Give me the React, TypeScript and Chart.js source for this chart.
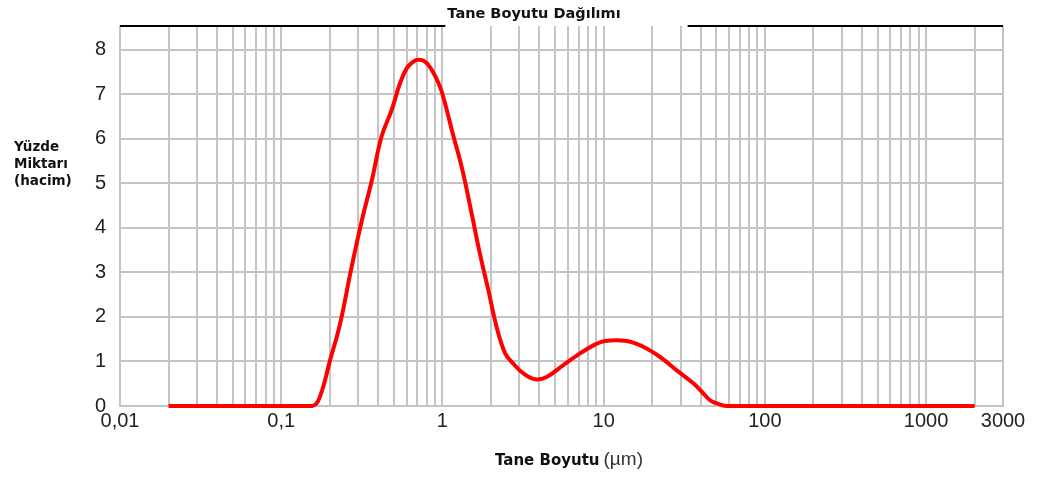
import React, { useEffect, useRef } from "react";
import { Chart, registerables } from "chart.js";

Chart.register(...registerables);

// Particle size (µm) and volume percentage
const particleSizes = [
  0.02, 0.05, 0.1, 0.14, 0.155, 0.165, 0.174, 0.187, 0.201, 0.221, 0.237, 0.273,
  0.316, 0.364, 0.42, 0.485, 0.546, 0.6, 0.66, 0.709, 0.78, 0.858, 0.966, 1.063,
  1.142, 1.32, 1.52, 1.71, 1.93, 2.17, 2.45, 2.75, 3.18, 3.75, 4.43, 5.62, 7.14,
  8.64, 10.2, 13.9, 17.6, 22.4, 28.4, 36, 40.6, 45.7, 50.2, 58, 100, 500, 2000,
];
const volumePercent = [
  0, 0, 0, 0, 0, 0.05, 0.21, 0.58, 1.03, 1.55, 2.0, 3.11, 4.16, 5.05, 6.06, 6.65,
  7.25, 7.58, 7.73, 7.77, 7.73, 7.55, 7.17, 6.65, 6.2, 5.35, 4.31, 3.41, 2.59,
  1.77, 1.18, 0.95, 0.73, 0.6, 0.65, 0.92, 1.18, 1.36, 1.46, 1.46, 1.33, 1.1,
  0.8, 0.51, 0.32, 0.13, 0.06, 0, 0, 0, 0,
];

const xMajorTicks = [0.01, 0.1, 1, 10, 100, 1000, 3000];
const xTickLabels = ["0,01", "0,1", "1", "10", "100", "1000", "3000"];
const yTicks = [0, 1, 2, 3, 4, 5, 6, 7, 8];
const xMin = 0.01;
const xMax = 3000;
const yMin = 0;
const yMax = 8.53;

const chartTitle = "Tane Boyutu Dağılımı";
const yTitleLines = ["Yüzde", "Miktarı", "(hacim)"];
const xTitleBold = "Tane Boyutu";
const xTitleUnit = "(µm)";

function gridTickValues(): number[] {
  const out: number[] = [];
  for (let e = -2; e <= 3; e++) {
    for (let m = 1; m <= 9; m++) {
      const v = parseFloat((m * Math.pow(10, e)).toPrecision(6));
      if (v <= xMax + 1e-9) out.push(v);
    }
  }
  if (!out.some((v) => Math.abs(v - xMax) < 1e-6)) out.push(xMax);
  return out;
}

function labelFor(v: number): string {
  for (let i = 0; i < xMajorTicks.length; i++) {
    if (Math.abs(v - xMajorTicks[i]) / xMajorTicks[i] < 1e-6) return xTickLabels[i];
  }
  return "";
}

const textPlugin = {
  id: "customTexts",
  afterDraw(chart: any) {
    const ctx = chart.ctx as CanvasRenderingContext2D;
    const { left, right, top } = chart.chartArea;
    ctx.save();
    // title
    ctx.font = 'bold 14.5px "DejaVu Sans"';
    ctx.fillStyle = "#111";
    ctx.textAlign = "center";
    ctx.textBaseline = "alphabetic";
    const titleX = 534;
    ctx.fillText(chartTitle, titleX, 18);
    const tw = ctx.measureText(chartTitle).width;
    // top black border (interrupted under the title)
    ctx.strokeStyle = "#000";
    ctx.lineWidth = 2;
    ctx.beginPath();
    ctx.moveTo(left, top);
    ctx.lineTo(titleX - tw / 2 - 2, top);
    ctx.moveTo(titleX + tw / 2 + 67, top);
    ctx.lineTo(right, top);
    ctx.stroke();
    // y title
    ctx.font = 'bold 13.5px "DejaVu Sans"';
    ctx.textAlign = "left";
    const yBase = [151, 168, 185];
    yTitleLines.forEach((t, i) => ctx.fillText(t, 14, yBase[i]));
    // x title
    ctx.font = 'bold 15px "DejaVu Sans"';
    ctx.fillText(xTitleBold, 495, 465);
    const bw = ctx.measureText(xTitleBold).width;
    ctx.font = '19px "Liberation Sans"';
    ctx.fillStyle = "#333";
    ctx.fillText(xTitleUnit, 495 + bw + 4, 465);
    ctx.restore();
  },
};

export default function App() {
  const canvasRef = useRef<HTMLCanvasElement | null>(null);

  useEffect(() => {
    if (!canvasRef.current) return;
    const points = particleSizes.map((x, i) => ({ x, y: volumePercent[i] }));
    const gridTicks = gridTickValues();
    const chart = new Chart(canvasRef.current, {
      type: "line",
      data: {
        datasets: [
          {
            data: points,
            borderColor: "#ff0000",
            borderWidth: 4,
            pointRadius: 0,
            fill: false,
            tension: 0.4,
            clip: false as any,
          },
        ],
      },
      options: {
        animation: false,
        responsive: false,
        maintainAspectRatio: false,
        parsing: false as any,
        layout: { padding: { top: 24, right: 37, left: 0, bottom: 0 } },
        plugins: {
          legend: { display: false },
          tooltip: { enabled: false },
          title: { display: false },
        },
        scales: {
          x: {
            type: "logarithmic",
            min: xMin,
            max: xMax,
            afterBuildTicks: (scale: any) => {
              scale.ticks = gridTicks.map((v) => ({ value: v }));
            },
            afterFit: (scale: any) => {
              scale.height = 73;
            },
            ticks: {
              autoSkip: false,
              maxRotation: 0,
              minRotation: 0,
              padding: 3,
              color: "#222",
              font: { family: '"Liberation Sans", Arial, sans-serif', size: 20 },
              callback: (v: any) => labelFor(Number(v)),
            },
            grid: { color: "#c4c4c4", lineWidth: 2, drawTicks: false },
            border: { color: "#c4c4c4", width: 2 },
          },
          y: {
            type: "linear",
            min: yMin,
            max: yMax,
            afterBuildTicks: (scale: any) => {
              scale.ticks = yTicks.map((v) => ({ value: v }));
            },
            afterFit: (scale: any) => {
              scale.width = 120;
            },
            ticks: {
              padding: 14,
              color: "#222",
              font: { family: '"Liberation Sans", Arial, sans-serif', size: 20 },
              callback: (v: any) => String(v),
            },
            grid: { color: "#c4c4c4", lineWidth: 2, drawTicks: false },
            border: { color: "#c4c4c4", width: 2 },
          },
        },
      },
      plugins: [textPlugin],
    });
    return () => chart.destroy();
  }, []);

  return (
    <div style={{ position: "absolute", left: 0, top: 0, width: 1040, height: 479, background: "#fff" }}>
      <canvas ref={canvasRef} width={1040} height={479} style={{ width: 1040, height: 479 }} />
    </div>
  );
}
